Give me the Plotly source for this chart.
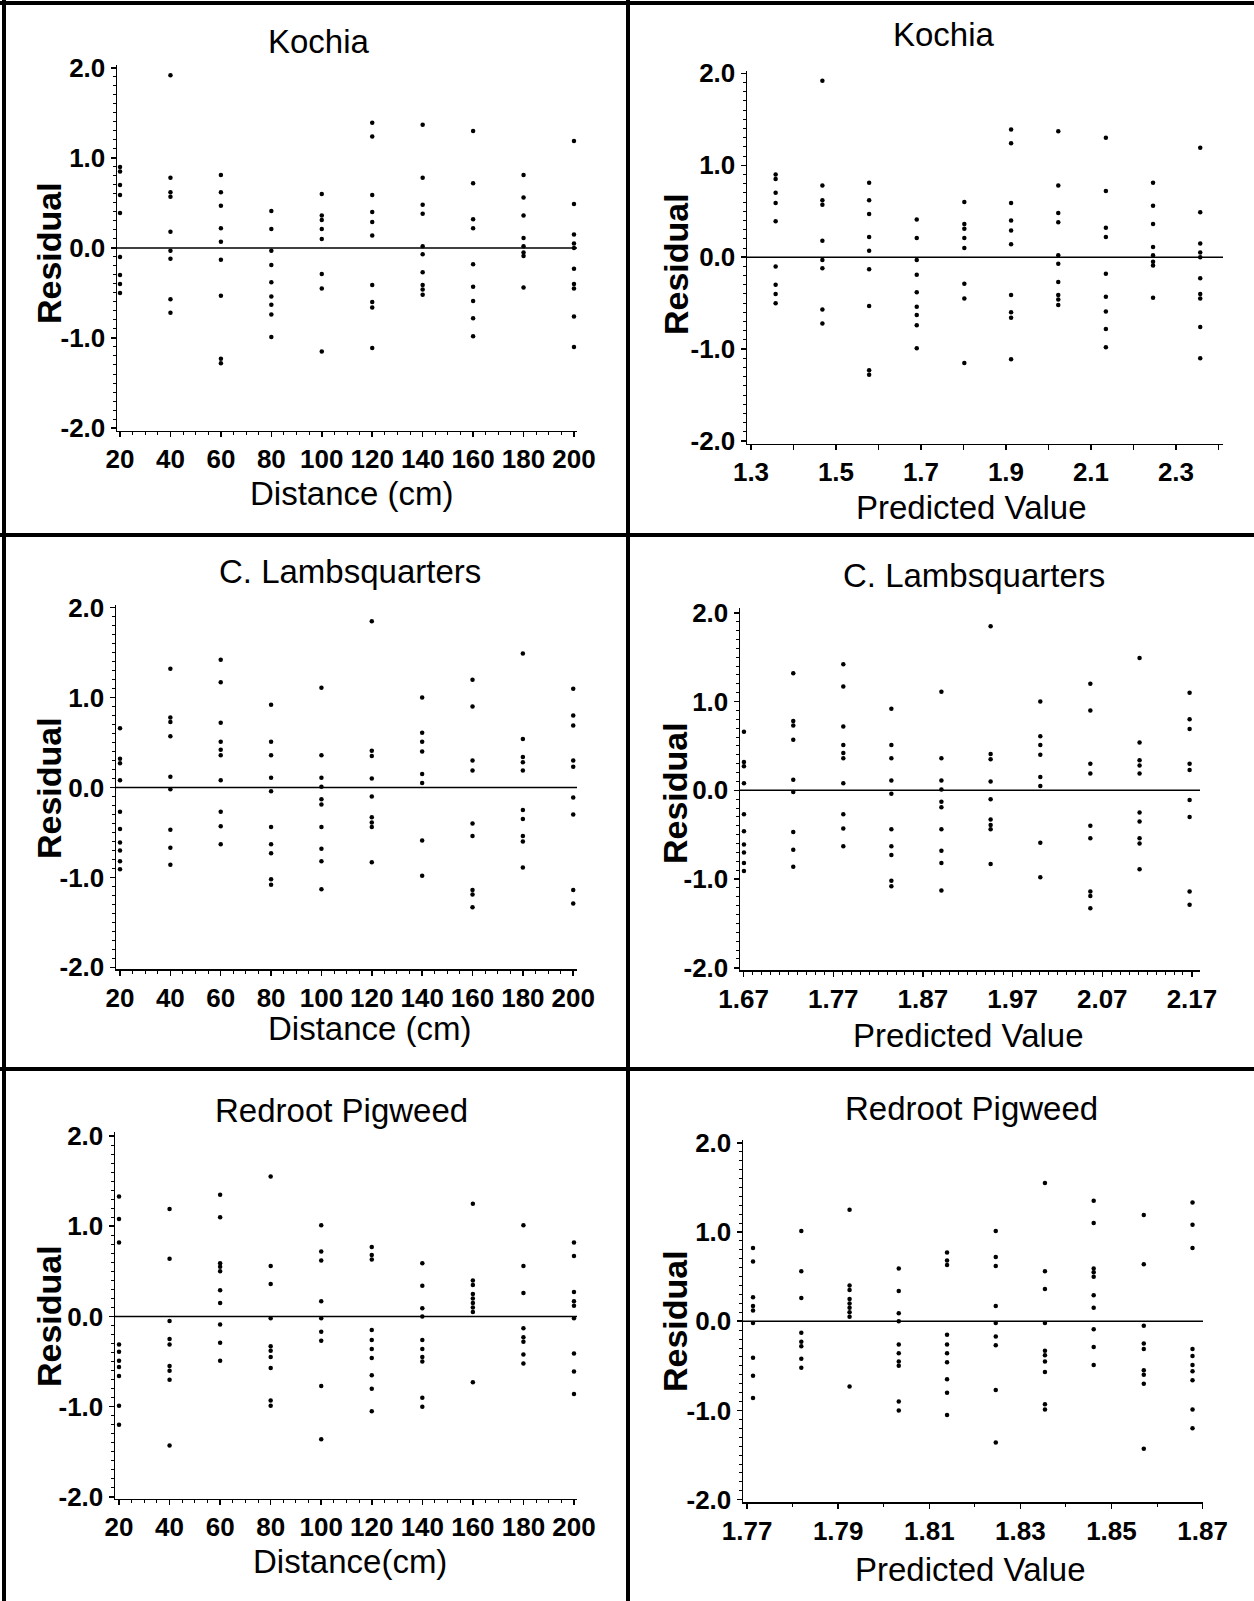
import plotly.graph_objects as go

# ---------------- data ----------------
DISTANCES = [20, 40, 60, 80, 100, 120, 140, 160, 180, 200]

KOCHIA_RESID = [
    [0.90, 0.85, 0.70, 0.59, 0.39, -0.10, -0.30, -0.40, -0.50],
    [1.92, 0.78, 0.62, 0.57, 0.18, -0.03, -0.12, -0.57, -0.72],
    [0.81, 0.62, 0.47, 0.22, 0.07, -0.13, -0.53, -1.23, -1.28],
    [0.41, 0.21, -0.03, -0.19, -0.38, -0.54, -0.63, -0.74, -0.99],
    [0.60, 0.36, 0.31, 0.21, 0.10, -0.29, -0.45, -1.15],
    [1.39, 1.24, 0.59, 0.40, 0.29, 0.14, -0.41, -0.60, -0.66, -1.11],
    [1.37, 0.78, 0.48, 0.38, 0.02, -0.07, -0.27, -0.41, -0.46, -0.52],
    [1.30, 0.72, 0.32, 0.22, -0.18, -0.43, -0.59, -0.78, -0.98],
    [0.81, 0.56, 0.36, 0.11, 0.02, -0.05, -0.09, -0.44],
    [1.19, 0.49, 0.15, 0.05, 0.00, -0.23, -0.40, -0.45, -0.76, -1.10],
]
KOCHIA_PRED = [1.358, 1.468, 1.578, 1.690, 1.802, 1.912, 2.023, 2.135, 2.246, 2.357]

LAMB_RESID = [
    [0.66, 0.32, 0.27, 0.08, -0.27, -0.46, -0.61, -0.70, -0.82, -0.91],
    [1.32, 0.78, 0.73, 0.57, 0.12, -0.02, -0.47, -0.67, -0.86],
    [1.42, 1.17, 0.72, 0.51, 0.42, 0.36, 0.08, -0.27, -0.43, -0.63],
    [0.92, 0.51, 0.36, 0.11, -0.04, -0.44, -0.63, -0.73, -1.02, -1.08],
    [1.11, 0.36, 0.11, 0.01, -0.13, -0.19, -0.44, -0.68, -0.82, -1.13],
    [1.85, 0.41, 0.35, 0.10, -0.10, -0.33, -0.39, -0.44, -0.83],
    [1.00, 0.61, 0.51, 0.40, 0.15, 0.05, -0.59, -0.98],
    [1.20, 0.90, 0.30, 0.19, -0.40, -0.54, -1.14, -1.19, -1.33],
    [1.49, 0.54, 0.34, 0.28, 0.19, -0.25, -0.35, -0.54, -0.60, -0.89],
    [1.10, 0.80, 0.69, 0.30, 0.23, -0.11, -0.30, -1.14, -1.29],
]
LAMB_PRED = [1.6704, 1.7254, 1.7812, 1.8348, 1.8906, 1.9455, 2.0009, 2.0567, 2.1116, 2.1674]

PIG_RESID = [
    [1.33, 1.08, 0.82, -0.31, -0.39, -0.49, -0.56, -0.66, -0.99, -1.20],
    [1.19, 0.64, -0.05, -0.25, -0.31, -0.55, -0.60, -0.70, -1.43],
    [1.35, 1.10, 0.59, 0.55, 0.50, 0.29, 0.15, -0.09, -0.29, -0.49],
    [1.55, 0.56, 0.36, -0.02, -0.33, -0.38, -0.45, -0.57, -0.93, -0.99],
    [1.01, 0.72, 0.62, 0.17, -0.02, -0.17, -0.27, -0.77, -1.36],
    [0.77, 0.68, 0.63, -0.15, -0.26, -0.36, -0.46, -0.65, -0.80, -1.05],
    [0.59, 0.34, 0.09, 0.00, -0.26, -0.36, -0.45, -0.50, -0.90, -1.00],
    [1.25, 0.40, 0.35, 0.25, 0.20, 0.15, 0.10, 0.05, -0.73],
    [1.01, 0.56, 0.26, -0.13, -0.23, -0.28, -0.42, -0.52],
    [0.82, 0.67, 0.27, 0.17, 0.12, -0.02, -0.41, -0.61, -0.86],
]
PIG_PRED = [1.8678, 1.8571, 1.8461, 1.8354, 1.8246, 1.8139, 1.8033, 1.7925, 1.7819, 1.7713]

TITLES = ["Kochia", "Kochia", "C. Lambsquarters", "C. Lambsquarters",
          "Redroot Pigweed", "Redroot Pigweed"]
XTITLES = ["Distance (cm)", "Predicted Value", "Distance (cm)", "Predicted Value",
           "Distance(cm)", "Predicted Value"]
YTITLE = "Residual"

DIST_TICKS = [20, 40, 60, 80, 100, 120, 140, 160, 180, 200]
KOCHIA_TICKS = [1.3, 1.4, 1.5, 1.6, 1.7, 1.8, 1.9, 2.0, 2.1, 2.2, 2.3, 2.4]
KOCHIA_TICKTEXT = ["1.3", "", "1.5", "", "1.7", "", "1.9", "", "2.1", "", "2.3", ""]
LAMB_TICKS = [1.67, 1.77, 1.87, 1.97, 2.07, 2.17]
PIG_TICKS = [1.77, 1.79, 1.81, 1.83, 1.85, 1.87]
Y_TICKS = [-2, -1, 0, 1, 2]
Y_TICKTEXT = ["-2.0", "-1.0", "0.0", "1.0", "2.0"]

# ---------------- layout helpers ----------------
W, H = 1254, 1601
def fx(px):
    return px / W
def fy(py):
    return 1 - py / H

panels = [
    dict(res=KOCHIA_RESID, xs=DISTANCES, xd=(117, 577), xr=(18.8, 201.2), yd=(65, 430.7), yr=(-2.03, 2.033),
         tv=DIST_TICKS, tt=[str(v) for v in DIST_TICKS], mdt=5, m0=20,
         title=(319, 42), xt=(352, 493), ytl=(49, 253)),
    dict(res=KOCHIA_RESID, xs=KOCHIA_PRED, xd=(747, 1223), xr=(1.2906, 2.4106), yd=(71, 443.7), yr=(-2.029, 2.026),
         tv=KOCHIA_TICKS, tt=KOCHIA_TICKTEXT, mdt=None, m0=None,
         title=(944, 34), xt=(971, 508), ytl=(676, 264)),
    dict(res=LAMB_RESID, xs=DISTANCES, xd=(116, 577), xr=(18.41, 201.5), yd=(605, 969), yr=(-2.018, 2.03),
         tv=DIST_TICKS, tt=[str(v) for v in DIST_TICKS], mdt=5, m0=20,
         title=(350, 571), xt=(370, 1028), ytl=(49, 788)),
    dict(res=LAMB_RESID, xs=LAMB_PRED, xd=(740, 1200), xr=(1.666, 2.179), yd=(608.4, 970.2), yr=(-2.027, 2.05),
         tv=LAMB_TICKS, tt=[f"{v:.2f}" for v in LAMB_TICKS], mdt=0.01, m0=1.67,
         title=(974, 575), xt=(968, 1035), ytl=(675, 793)),
    dict(res=PIG_RESID, xs=DISTANCES, xd=(115, 577), xr=(18.41, 201.2), yd=(1132, 1498.7), yr=(-2.019, 2.044),
         tv=DIST_TICKS, tt=[str(v) for v in DIST_TICKS], mdt=5, m0=20,
         title=(341, 1110), xt=(349.5, 1561), ytl=(49, 1316)),
    dict(res=PIG_RESID, xs=PIG_PRED, xd=(743, 1203), xr=(1.7691, 1.8701), yd=(1140, 1502.4), yr=(-2.03, 2.031),
         tv=PIG_TICKS, tt=[f"{v:.2f}" for v in PIG_TICKS], mdt=0.01, m0=1.77,
         title=(971, 1108), xt=(970, 1569), ytl=(675, 1321)),
]

FAMILY = "Liberation Sans, Arial, Helvetica, sans-serif"
TICKFONT = dict(family=FAMILY, size=26, color="black", weight="bold")
TITLEFONT = dict(family=FAMILY, size=33, color="black")
YTFONT = dict(family=FAMILY, size=34, color="black", weight="bold")

fig = go.Figure()
annotations = []
shapes = []

for i, p in enumerate(panels):
    n = i + 1
    xa = "x" if n == 1 else f"x{n}"
    ya = "y" if n == 1 else f"y{n}"
    xs, ys = [], []
    for xv, rl in zip(p["xs"], p["res"]):
        for r in rl:
            xs.append(xv)
            ys.append(r)
    fig.add_trace(go.Scatter(x=xs, y=ys, mode="markers", xaxis=xa, yaxis=ya,
                             marker=dict(size=4.5, color="black", line=dict(width=0)),
                             showlegend=False, hoverinfo="skip", cliponaxis=False))
    xkey = "xaxis" if n == 1 else f"xaxis{n}"
    ykey = "yaxis" if n == 1 else f"yaxis{n}"
    xaxis = dict(domain=[fx(p["xd"][0]), fx(p["xd"][1])], range=list(p["xr"]), anchor=ya,
                 showline=True, linecolor="black", linewidth=1.5, showgrid=False, zeroline=False,
                 ticks="outside", ticklen=5, tickwidth=1.5, tickcolor="black",
                 tickmode="array", tickvals=p["tv"], ticktext=p["tt"], tickfont=TICKFONT,
                 automargin=False, fixedrange=True)
    if p["mdt"] is not None:
        xaxis["minor"] = dict(ticks="outside", ticklen=3, tickwidth=1, tickcolor="black",
                              dtick=p["mdt"], tick0=p["m0"], showgrid=False)
    yaxis = dict(domain=[fy(p["yd"][1]), fy(p["yd"][0])], range=list(p["yr"]), anchor=xa,
                 showline=True, linecolor="black", linewidth=1.5, showgrid=False, zeroline=False,
                 ticks="outside", ticklen=5, tickwidth=1.5, tickcolor="black",
                 tickmode="array", tickvals=Y_TICKS, ticktext=Y_TICKTEXT, tickfont=TICKFONT,
                 minor=dict(ticks="outside", ticklen=3, tickwidth=1, tickcolor="black",
                            dtick=0.1, tick0=0, showgrid=False),
                 automargin=False, fixedrange=True)
    fig.update_layout({xkey: xaxis, ykey: yaxis})
    shapes.append(dict(type="line", xref=f"{xa} domain", yref=ya, x0=0, x1=1, y0=0, y1=0,
                       line=dict(color="black", width=1.6)))
    annotations.append(dict(text=TITLES[i], x=fx(p["title"][0]), y=fy(p["title"][1]),
                            xref="paper", yref="paper", xanchor="center", yanchor="middle",
                            showarrow=False, font=TITLEFONT))
    annotations.append(dict(text=XTITLES[i], x=fx(p["xt"][0]), y=fy(p["xt"][1]),
                            xref="paper", yref="paper", xanchor="center", yanchor="middle",
                            showarrow=False, font=TITLEFONT))
    annotations.append(dict(text=YTITLE, x=fx(p["ytl"][0]), y=fy(p["ytl"][1]), textangle=-90,
                            xref="paper", yref="paper", xanchor="center", yanchor="middle",
                            showarrow=False, font=YTFONT))

frame = dict(color="black", width=4)
shapes += [
    dict(type="line", xref="paper", yref="paper", x0=0, x1=1, y0=fy(3), y1=fy(3), line=frame),
    dict(type="line", xref="paper", yref="paper", x0=fx(4), x1=fx(4), y0=0, y1=1, line=frame),
    dict(type="line", xref="paper", yref="paper", x0=fx(628), x1=fx(628), y0=0, y1=1, line=frame),
    dict(type="line", xref="paper", yref="paper", x0=0, x1=1, y0=fy(535), y1=fy(535), line=frame),
    dict(type="line", xref="paper", yref="paper", x0=0, x1=1, y0=fy(1069), y1=fy(1069), line=frame),
]

fig.update_layout(width=W, height=H, margin=dict(l=0, r=0, t=0, b=0, pad=0, autoexpand=False),
                  paper_bgcolor="white", plot_bgcolor="white", template="none",
                  annotations=annotations, shapes=shapes, showlegend=False)

fig.write_html("out.html", config={"displayModeBar": False, "staticPlot": True},
               post_script="document.body.style.margin='0';document.body.style.overflow='hidden';")
